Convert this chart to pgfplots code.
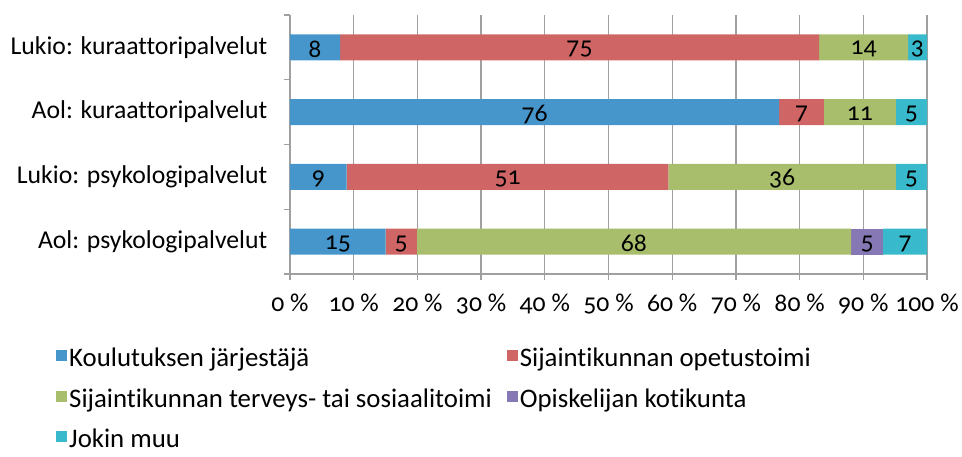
\documentclass[border=0pt]{standalone}
\usepackage{fontspec}
\setmainfont{Carlito}[Numbers=OldStyle, Ligatures=NoCommon]
\usepackage{pgfplots}
\usepackage{pgfplotstable}
\pgfplotsset{compat=1.18}
\definecolor{cA}{RGB}{70,150,204}
\definecolor{cB}{RGB}{207,101,101}
\definecolor{cC}{RGB}{168,190,108}
\definecolor{cD}{RGB}{134,120,181}
\definecolor{cE}{RGB}{57,186,204}
\definecolor{gridg}{RGB}{160,160,160}
\pgfplotstableread{
y a b c d e
0 15.0 4.9 68.2 5.0 6.9
1 8.9 50.5 35.7 0 4.9
2 76.8 7.0 11.3 0 4.9
3 7.85 75.2 14.0 0 2.95
}\bars
\pgfplotstableread{
x y lab
7.5 0 15
17.45 0 5
54.0 0 68
90.6 0 5
96.55 0 7
4.45 1 9
34.15 1 51
77.25 1 36
97.55 1 5
38.4 2 76
80.3 2 7
89.45 2 11
97.55 2 5
3.9 3 8
45.45 3 75
90.05 3 14
98.5 3 3
}\labs
\begin{document}
\fontsize{25.7bp}{30bp}\selectfont
\begin{tikzpicture}
\begin{axis}[
  scale only axis, width=637bp, height=259bp,
  xmin=0, xmax=100, ymin=-0.5, ymax=3.5,
  xbar stacked, bar width=26bp,
  axis x line=bottom, axis y line=left,
  axis line style={-, draw=gridg, line width=1.2bp},
  xtick={0,10,...,100},
  xticklabels={0 \%,10 \%,20 \%,30 \%,40 \%,50 \%,60 \%,70 \%,80 \%,90 \%,100 \%},
  xticklabel style={yshift=-5bp},
  yticklabel style={xshift=-8bp},
  xmajorgrids, major grid style={draw=gridg, line width=1.2bp},
  ytick={0,1,2,3},
  yticklabels={Aol: psykologipalvelut, Lukio: psykologipalvelut, Aol: kuraattoripalvelut, Lukio: kuraattoripalvelut},
  minor ytick={-0.5,0.5,1.5,2.5,3.5},
  major y tick style={draw=none},
  minor y tick style={draw=gridg, line width=1.2bp},
  major x tick style={draw=gridg, line width=1.2bp},
  tick align=outside, major tick length=6bp, minor tick length=6bp,
  tick label style={font=\fontsize{25.7bp}{30bp}\selectfont, text=black},
  /pgf/number format/assume math mode=true,
  legend columns=2,
  legend cell align=left,
  legend style={at={(-0.372,-0.27)}, anchor=north west, draw=none, fill=none,
    font=\fontsize{26.8bp}{31bp}\selectfont, row sep=14bp,
    /tikz/every even column/.append style={column sep=13bp},
    nodes={inner xsep=2bp, inner ysep=2bp}},
  legend image code/.code={\fill[#1] (0bp,-2bp) rectangle (11bp,9bp);},
]
\addplot[fill=cA, draw=none] table[x=a, y=y] {\bars};
\addplot[fill=cB, draw=none] table[x=b, y=y] {\bars};
\addplot[fill=cC, draw=none] table[x=c, y=y] {\bars};
\addplot[fill=cD, draw=none] table[x=d, y=y] {\bars};
\addplot[fill=cE, draw=none] table[x=e, y=y] {\bars};
\legend{Koulutuksen järjestäjä, Sijaintikunnan opetustoimi, Sijaintikunnan terveys- tai sosiaalitoimi, Opiskelijan kotikunta, Jokin muu}
\end{axis}
\begin{axis}[
  scale only axis, width=637bp, height=259bp,
  xmin=0, xmax=100, ymin=-0.5, ymax=3.5,
  hide axis,
]
\addplot[only marks, mark=none, nodes near coords, point meta=explicit symbolic,
  every node near coord/.style={anchor=center, yshift=-2bp, font=\fontsize{25.7bp}{30bp}\selectfont, text=black}]
  table[x=x, y=y, meta=lab] {\labs};
\end{axis}
\pgfresetboundingbox
\path (current axis.south west) ++(-290bp,-183bp) rectangle ++(962bp,457bp);
\end{tikzpicture}
\end{document}
